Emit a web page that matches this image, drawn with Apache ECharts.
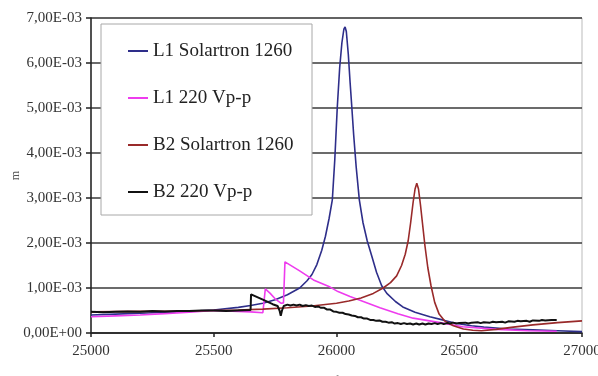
<!DOCTYPE html>
<html>
<head>
<meta charset="utf-8">
<script src="https://cdn.jsdelivr.net/npm/echarts@6/dist/echarts.min.js"></script>
<style>
html,body{margin:0;padding:0;background:#fff;}
#c{width:598px;height:376px;}
</style>
</head>
<body>
<div id="c"></div>
<script>
// Series names
var seriesNames = ['L1 Solartron 1260', 'L1 220 Vp-p', 'B2 Solartron 1260', 'B2 220 Vp-p'];
// x ticks
var xTicks = [25000, 25500, 26000, 26500, 27000];
// y values are in units of 1E-03
var l1Solartron = [[25000,0.40],[25100,0.42],[25200,0.44],[25300,0.46],[25400,0.48],[25500,0.51],[25600,0.57],[25650,0.61],[25700,0.66],[25750,0.74],[25800,0.85],[25850,1.00],[25880,1.16],[25900,1.30],[25920,1.52],[25940,1.84],[25955,2.15],[25970,2.55],[25983,2.96],[25993,3.85],[26003,5.00],[26013,5.90],[26022,6.45],[26030,6.75],[26035,6.80],[26040,6.70],[26048,6.20],[26055,5.60],[26062,5.05],[26070,4.40],[26080,3.70],[26093,2.96],[26108,2.45],[26125,2.05],[26143,1.72],[26163,1.35],[26184,1.05],[26205,0.88],[26240,0.70],[26270,0.58],[26320,0.46],[26380,0.36],[26440,0.28],[26490,0.21],[26550,0.16],[26600,0.13],[26700,0.09],[26800,0.07],[26900,0.05],[27000,0.03]];
var l1Vpp = [[25000,0.36],[25100,0.38],[25200,0.40],[25300,0.43],[25400,0.46],[25500,0.50],[25550,0.49],[25600,0.48],[25650,0.47],[25700,0.45],[25706,0.45],[25710,0.98],[25716,1.00],[25730,0.88],[25750,0.76],[25775,0.66],[25784,0.67],[25790,1.58],[25850,1.38],[25906,1.18],[25974,1.02],[26006,0.92],[26055,0.81],[26120,0.68],[26177,0.56],[26250,0.43],[26312,0.33],[26422,0.23],[26515,0.14],[26653,0.08],[26780,0.05],[26897,0.04]];
var b2Solartron = [[25000,0.47],[25200,0.48],[25400,0.49],[25500,0.50],[25600,0.51],[25700,0.53],[25800,0.56],[25900,0.60],[26000,0.66],[26050,0.71],[26100,0.78],[26150,0.88],[26190,1.00],[26220,1.12],[26245,1.27],[26265,1.50],[26280,1.75],[26292,2.05],[26302,2.45],[26312,2.90],[26320,3.20],[26327,3.33],[26334,3.20],[26342,2.85],[26350,2.45],[26360,1.95],[26372,1.45],[26385,1.05],[26400,0.68],[26418,0.42],[26440,0.27],[26476,0.16],[26517,0.09],[26555,0.06],[26590,0.05],[26650,0.08],[26720,0.13],[26800,0.18],[26900,0.23],[27000,0.27]];
var b2Vpp = [[25000,0.47],[25050,0.46],[25100,0.47],[25150,0.48],[25200,0.47],[25250,0.49],[25300,0.48],[25350,0.49],[25400,0.49],[25450,0.50],[25500,0.50],[25550,0.49],[25600,0.50],[25650,0.51],[25652,0.86],[25660,0.84],[25700,0.74],[25740,0.64],[25760,0.60],[25768,0.50],[25773,0.38],[25778,0.50],[25785,0.60],[25800,0.63],[25812,0.61],[25825,0.63],[25837,0.61],[25850,0.63],[25862,0.60],[25875,0.62],[25887,0.60],[25900,0.61],[25912,0.58],[25925,0.59],[25937,0.56],[25950,0.56],[25962,0.52],[25975,0.52],[25987,0.48],[26000,0.47],[26012,0.45],[26025,0.45],[26037,0.42],[26050,0.41],[26062,0.39],[26075,0.38],[26087,0.35],[26100,0.35],[26112,0.32],[26125,0.32],[26137,0.29],[26150,0.29],[26162,0.27],[26175,0.28],[26187,0.25],[26200,0.25],[26212,0.23],[26225,0.24],[26237,0.21],[26250,0.22],[26262,0.20],[26275,0.22],[26287,0.20],[26300,0.21],[26312,0.19],[26325,0.21],[26337,0.19],[26350,0.21],[26362,0.19],[26375,0.21],[26387,0.20],[26400,0.22],[26412,0.20],[26425,0.22],[26437,0.20],[26450,0.22],[26462,0.21],[26475,0.23],[26487,0.21],[26500,0.22],[26525,0.23],[26537,0.21],[26550,0.23],[26575,0.24],[26587,0.22],[26600,0.24],[26625,0.23],[26637,0.25],[26650,0.24],[26675,0.25],[26687,0.23],[26700,0.26],[26725,0.25],[26737,0.27],[26750,0.26],[26775,0.27],[26787,0.25],[26800,0.28],[26825,0.27],[26837,0.29],[26850,0.28],[26875,0.29],[26897,0.29]];
var colors = ['#2e2e8a', '#ee3cee', '#992a2a', '#111111'];
var allData = [l1Solartron, l1Vpp, b2Solartron, b2Vpp];

var chart = echarts.init(document.getElementById('c'), null, {renderer: 'canvas'});
var serif = '"Liberation Serif", "Times New Roman", serif';
var option = {
  animation: false,
  backgroundColor: '#fff',
  grid: {left: 91, right: 16, top: 18, bottom: 43, containLabel: false, outerBoundsMode: 'none',
    show: true, borderColor: '#bbbbbb', borderWidth: 1, backgroundColor: '#fff'},
  graphic: [{
    type: 'rect', z: 3,
    shape: {x: 101, y: 24, width: 211, height: 191},
    style: {fill: '#fff', stroke: '#a8a8a8', lineWidth: 1}
  }],
  legend: {
    z: 5,
    orient: 'vertical', left: 128, top: 41, padding: 0,
    itemGap: 27, itemWidth: 20, itemHeight: 2, icon: 'rect',
    textStyle: {fontFamily: serif, fontSize: 19, color: '#222', lineHeight: 20},
    data: seriesNames
  },
  xAxis: {
    type: 'value', min: xTicks[0], max: xTicks[xTicks.length - 1], interval: 500,
    name: 'f', nameLocation: 'middle', nameGap: 42, nameMoveOverlap: false,
    nameTextStyle: {fontFamily: serif, fontSize: 11, color: '#333'},
    axisLine: {show: true, lineStyle: {color: '#222', width: 1.5}},
    axisTick: {show: true, length: 4, lineStyle: {color: '#222', width: 1.5}},
    axisLabel: {fontFamily: serif, fontSize: 15, color: '#333', margin: 11, formatter: function (v) { return String(v); }},
    splitLine: {show: false}
  },
  yAxis: {
    type: 'value', min: 0, max: 7, interval: 1,
    name: 'm', nameLocation: 'middle', nameGap: 69, nameRotate: 90, nameMoveOverlap: false,
    nameTextStyle: {fontFamily: serif, fontSize: 12, color: '#555'},
    axisLine: {show: true, lineStyle: {color: '#222', width: 1.5}},
    axisTick: {show: true, length: 5, lineStyle: {color: '#222', width: 1.5}},
    axisLabel: {fontFamily: serif, fontSize: 15, color: '#333', margin: 9,
      formatter: function (v) { return v === 0 ? '0,00E+00' : v.toFixed(2).replace('.', ',') + 'E-03'; }},
    splitLine: {show: true, lineStyle: {color: '#3a3a3a', width: 1.5}}
  },
  series: seriesNames.map(function (n, i) {
    return {
      name: n, type: 'line', data: allData[i], showSymbol: false, symbol: 'none',
      lineStyle: {color: colors[i], width: i === 3 ? 2 : 1.6},
      itemStyle: {color: colors[i]},
      z: 2 + i
    };
  })
};
chart.setOption(option);
</script>
</body>
</html>
